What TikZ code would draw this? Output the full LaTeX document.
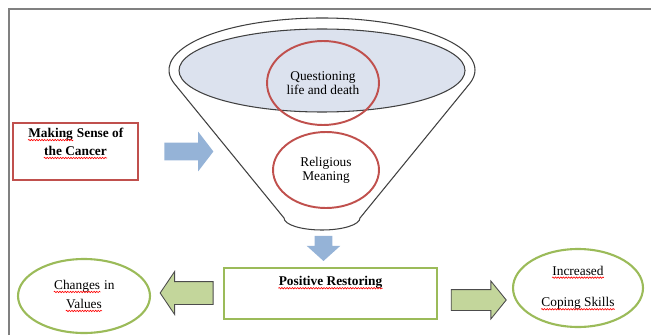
\documentclass[tikz,border=0pt]{standalone}
\usepackage{fontspec}
\setmainfont{Liberation Serif}
\usetikzlibrary{shapes.geometric,shapes.arrows,positioning,calc,decorations.pathmorphing}

\definecolor{boxred}{HTML}{C0504D}
\definecolor{boxgreen}{HTML}{9BBB59}
\definecolor{arrgreen}{HTML}{C3D69B}
\definecolor{arrblue}{HTML}{95B3D7}
\definecolor{funnelfill}{HTML}{DCE2EE}
\definecolor{framegray}{HTML}{808080}

% red spelling wave under a word
\newcommand\spellwave[1]{\tikz[baseline=(w.base)]{%
	\node[shape=rectangle, draw=none, fill=none, inner sep=0pt, minimum size=0pt] (w) {#1};
	\draw[draw=red, fill=none, line width=0.35pt, decorate,
		decoration={snake, amplitude=0.4pt, segment length=1.5pt}]
		([yshift=-1.5pt]w.base west) -- ([yshift=-1.5pt]w.base east);}}

\tikzset{
	txt/.style={font=\fontsize{7.6}{8}\selectfont, align=center, inner sep=0pt},
	redbox/.style={draw=boxred, line width=1.5pt, minimum width=2.5cm, minimum height=1.14cm},
	redring/.style={ellipse, draw=boxred, line width=1.1pt, txt},
	greenbox/.style={draw=boxgreen, line width=1.2pt, minimum width=4.26cm, minimum height=1.02cm},
	greenring/.style={ellipse, draw=boxgreen, line width=1.2pt, txt},
	bluearrow/.style={single arrow, fill=arrblue, inner xsep=0pt, inner ysep=0.17cm,
		single arrow head extend=0.22cm, single arrow tip angle=105, minimum height=0.98cm},
	greenarrow/.style={single arrow, fill=arrgreen, draw=black!70, line width=0.5pt,
		inner xsep=0pt, inner ysep=0.2cm, single arrow head extend=0.17cm,
		single arrow tip angle=102, minimum height=1.1cm},
	funnel/.style={draw=black!75, line width=0.6pt}
}

\begin{document}
\begin{tikzpicture}[x=0.02cm, y=0.02cm]
	\useasboundingbox (0,0) rectangle (651,335);

	% Frame
	\draw[framegray, line width=1.2pt] (9,0) -- (9,326) -- (651,326);

	% Funnel
	\draw[funnel] (284,117) -- ($(322,265)+(195:153 and 52)$)
		arc[start angle=195, end angle=-15, x radius=153, y radius=52]
		-- (360,117) arc[start angle=0, end angle=-180, x radius=38, y radius=12] -- cycle;
	\draw[funnel, fill=funnelfill] (322,264.5) ellipse[x radius=143, y radius=41.5];

	% Meaning inside the funnel
	\node[redring, minimum width=2.24cm, minimum height=1.68cm] (question) at (323,252) {Questioning\\life and death};
	\node[redring, minimum width=2.12cm, minimum height=1.52cm] (religion) at (326,165) {Religious\\Meaning};

	% Making sense
	\node[redbox] (sense) at (75.5,183.5) {};
	\node[txt, font=\fontsize{7.6}{8}\selectfont\bfseries, below=0.12cm of sense.north] (senseText)
		{\spellwave{Making} Sense of\\[2.2pt]\spellwave{the Cancer}};
	\node[bluearrow] (toFunnel) at (185.5,183.5) {};

	% Restoring
	\node[bluearrow, rotate=-90, minimum height=0.5cm, single arrow head extend=0.16cm,
		single arrow tip angle=96] (toRestore) at (323.5,90.5) {};
	\node[greenbox] (restore) at (330.5,41.5) {};
	\node[txt, font=\fontsize{7.6}{8}\selectfont\bfseries, below=0.18cm of restore.north] (restoreText)
		{\spellwave{Positive Restoring}};

	% Outcomes
	\node[greenarrow, rotate=180, inner ysep=0.22cm, single arrow head extend=0.2cm,
		single arrow tip angle=112, minimum height=1.06cm] (toValues) at (190.5,42) {};
	\node[greenring, minimum width=2.64cm, minimum height=1.48cm] (values) at (84,39)
		{\spellwave{Changes} in\\[2.8pt]\spellwave{Values}};
	\node[greenarrow] (toCoping) at (474.5,35) {};
	\node[greenring, minimum width=2.6cm, minimum height=1.56cm] (coping) at (578,47)
		{\spellwave{Increased}\\[10pt]\spellwave{Coping Skills}};
\end{tikzpicture}
\end{document}
